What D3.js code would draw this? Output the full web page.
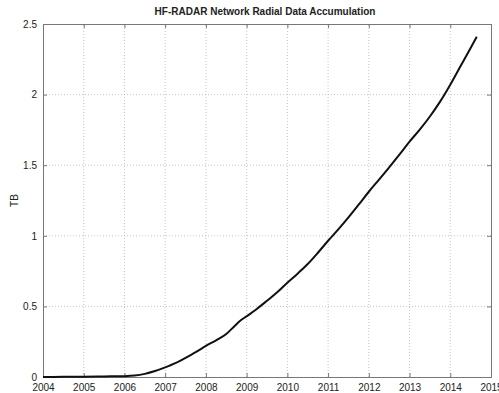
<!DOCTYPE html>
<html>
<head>
<meta charset="utf-8">
<script src="https://cdn.jsdelivr.net/npm/d3@7"></script>
<style>
  html, body { margin: 0; padding: 0; background: #fff; }
  svg { display: block; font-family: "Liberation Sans", Arial, sans-serif; }
</style>
</head>
<body>
<svg id="chart" width="499" height="393"></svg>
<script>
// Cumulative radial data volume (TB) by decimal year
const years = [2004.0, 2004.5, 2005.0, 2005.5, 2006.0, 2006.25, 2006.5, 2006.75, 2007.0, 2007.25,
               2007.5, 2007.75, 2008.0, 2008.25, 2008.5, 2008.7, 2008.85, 2009.0, 2009.25, 2009.5,
               2009.75, 2010.0, 2010.25, 2010.5, 2010.75, 2011.0, 2011.25, 2011.5, 2011.75, 2012.0,
               2012.25, 2012.5, 2012.75, 2013.0, 2013.25, 2013.5, 2013.75, 2014.0, 2014.25, 2014.5, 2014.65];
const tb    = [0.000, 0.001, 0.002, 0.004, 0.006, 0.010, 0.022, 0.042, 0.068, 0.098,
               0.136, 0.176, 0.220, 0.260, 0.305, 0.360, 0.400, 0.430, 0.482, 0.540,
               0.600, 0.668, 0.732, 0.800, 0.880, 0.965, 1.045, 1.130, 1.220, 1.312,
               1.398, 1.485, 1.575, 1.667, 1.752, 1.845, 1.950, 2.070, 2.200, 2.330, 2.410];
const xTicks = [2004, 2005, 2006, 2007, 2008, 2009, 2010, 2011, 2012, 2013, 2014, 2015];
const yTicks = [0, 0.5, 1, 1.5, 2, 2.5];

const svg = d3.select("#chart");
const m = { left: 43, right: 8, top: 24, bottom: 16 };
const W = 499, H = 393;
const iw = W - m.left - m.right, ih = H - m.top - m.bottom;

const x = d3.scaleLinear().domain([2004, 2015]).range([m.left, m.left + iw]);
const y = d3.scaleLinear().domain([0, 2.5]).range([m.top + ih, m.top]);

const g = svg.append("g");

// dotted grid
g.selectAll(".vgrid").data(xTicks.slice(1, -1)).join("line")
  .attr("x1", d => x(d)).attr("x2", d => x(d))
  .attr("y1", y(0)).attr("y2", y(2.5))
  .attr("stroke", "#b8b8b8").attr("stroke-width", 0.8).attr("stroke-dasharray", "1,2");
g.selectAll(".hgrid").data(yTicks.slice(1, -1)).join("line")
  .attr("x1", x(2004)).attr("x2", x(2015))
  .attr("y1", d => y(d)).attr("y2", d => y(d))
  .attr("stroke", "#b8b8b8").attr("stroke-width", 0.8).attr("stroke-dasharray", "1,2");

// axes (ticks pointing inward on all four sides)
const fmtY = d => d3.format("~g")(d);
const axBottom = g.append("g").attr("transform", `translate(0,${y(0)})`)
  .call(d3.axisBottom(x).tickValues(xTicks).tickFormat(d3.format("d")).tickSize(-4).tickPadding(7));
const axLeft = g.append("g").attr("transform", `translate(${x(2004)},0)`)
  .call(d3.axisLeft(y).tickValues(yTicks).tickFormat(fmtY).tickSize(-4).tickPadding(6));
const axTop = g.append("g").attr("transform", `translate(0,${y(2.5)})`)
  .call(d3.axisTop(x).tickValues(xTicks).tickFormat("").tickSize(-4));
const axRight = g.append("g").attr("transform", `translate(${x(2015)},0)`)
  .call(d3.axisRight(y).tickValues(yTicks).tickFormat("").tickSize(-4));

[axBottom, axLeft, axTop, axRight].forEach(a => {
  a.selectAll(".domain").attr("stroke", "#777").attr("stroke-width", 1);
  a.selectAll(".tick line").attr("stroke", "#777");
  a.selectAll("text").attr("fill", "#222").attr("font-size", 10)
    .attr("font-family", "'Liberation Sans', Arial, sans-serif");
});

// data curve
const line = d3.line().x((d, i) => x(years[i])).y(d => y(d)).curve(d3.curveMonotoneX);
g.append("path").datum(tb)
  .attr("d", line)
  .attr("fill", "none").attr("stroke", "#111").attr("stroke-width", 2)
  .attr("stroke-linejoin", "round");

// title
svg.append("text").attr("x", 265).attr("y", 15)
  .attr("text-anchor", "middle").attr("font-size", 10).attr("font-weight", "bold")
  .attr("fill", "#222").text("HF-RADAR Network Radial Data Accumulation");

// y label
svg.append("text").attr("transform", `translate(18,${(y(0) + y(2.5)) / 2}) rotate(-90)`)
  .attr("text-anchor", "middle").attr("font-size", 10).attr("fill", "#222").text("TB");
</script>
</body>
</html>
